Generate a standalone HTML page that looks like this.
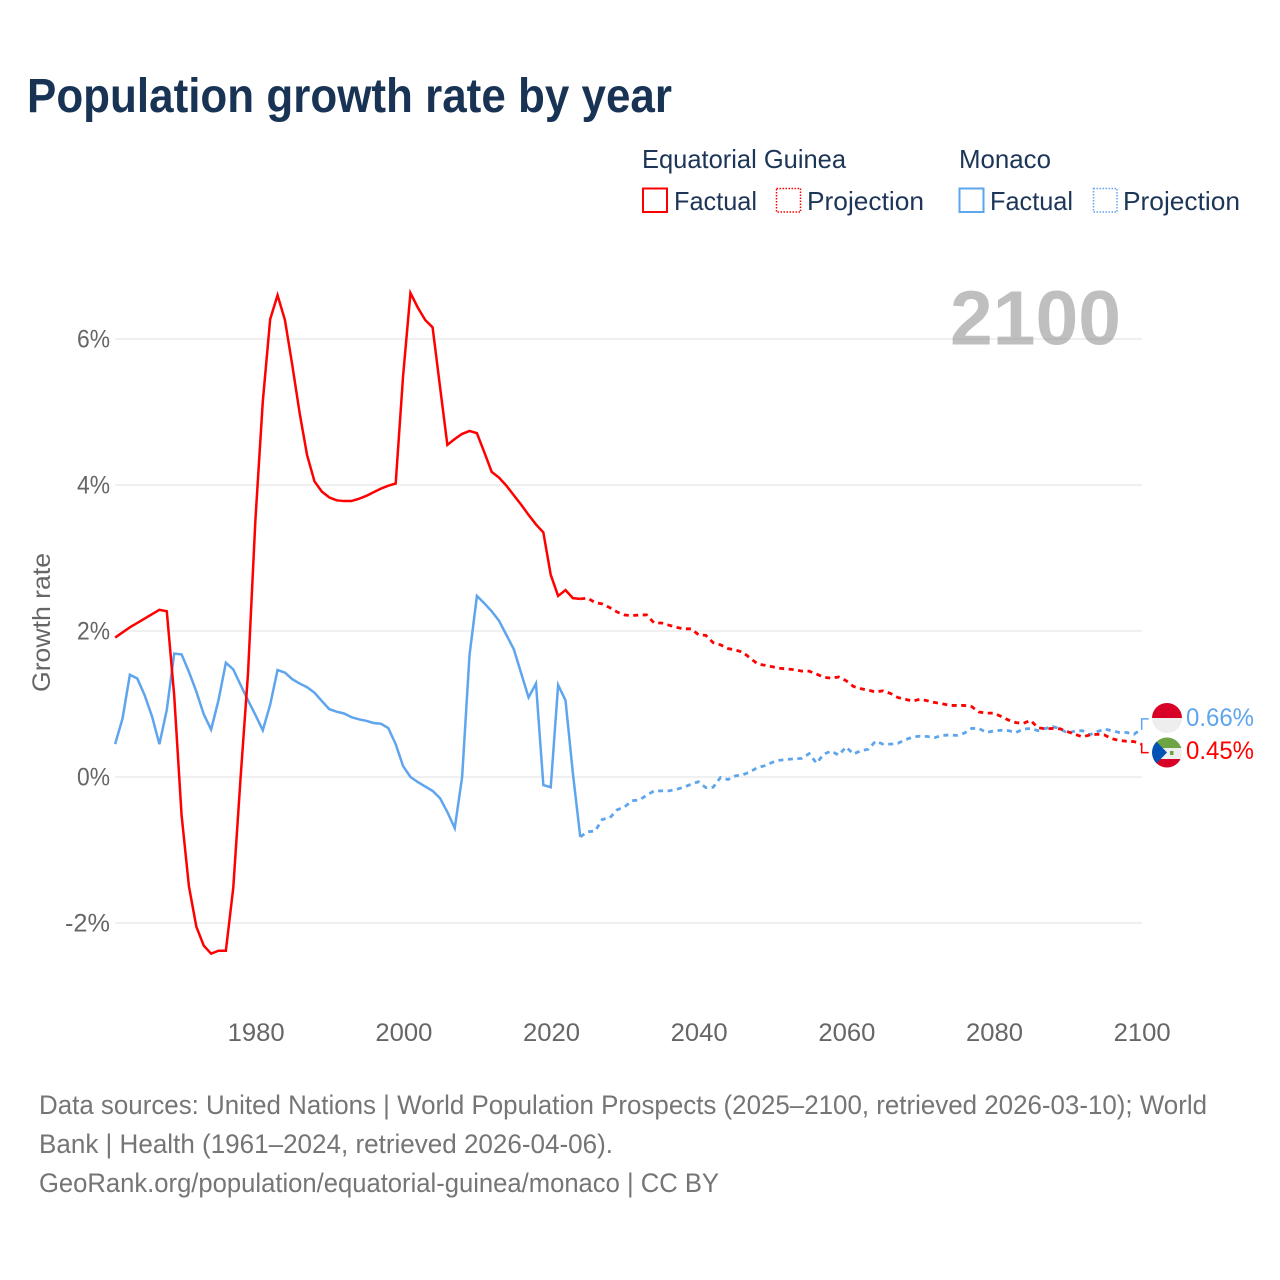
<!DOCTYPE html>
<html lang="en">
<head>
<meta charset="utf-8">
<title>Population growth rate by year</title>
<style>
html,body{margin:0;padding:0;background:#fff;width:1280px;height:1280px;overflow:hidden}
svg{display:block;font-family:"Liberation Sans",sans-serif}
</style>
</head>
<body>
<svg id="chart" xmlns="http://www.w3.org/2000/svg" width="1280" height="1280" viewBox="0 0 1280 1280">
  <rect x="0" y="0" width="1280" height="1280" fill="#ffffff"/>
  <text x="27" y="112" font-size="48" font-weight="700" fill="#183354" textLength="645" lengthAdjust="spacingAndGlyphs">Population growth rate by year</text>

  <g font-size="26" fill="#1d3557">
    <text x="642" y="168" textLength="204" lengthAdjust="spacingAndGlyphs">Equatorial Guinea</text>
    <text x="959" y="168" textLength="92" lengthAdjust="spacingAndGlyphs">Monaco</text>
    <rect x="643" y="188.500" width="24" height="23.500" fill="none" stroke="#ff0000" stroke-width="2"/>
    <text x="674" y="210" textLength="83" lengthAdjust="spacingAndGlyphs">Factual</text>
    <rect x="776.500" y="188.500" width="24" height="23.500" fill="none" stroke="#ff0000" stroke-width="1.500" stroke-dasharray="1.500 1.500"/>
    <text x="807" y="210" textLength="117" lengthAdjust="spacingAndGlyphs">Projection</text>
    <rect x="959.500" y="188.500" width="24" height="23.500" fill="none" stroke="#5ea5ee" stroke-width="2"/>
    <text x="990" y="210" textLength="83" lengthAdjust="spacingAndGlyphs">Factual</text>
    <rect x="1093.500" y="188.500" width="23.500" height="23.500" fill="none" stroke="#5ea5ee" stroke-width="1.500" stroke-dasharray="1.500 1.500"/>
    <text x="1123" y="210" textLength="117" lengthAdjust="spacingAndGlyphs">Projection</text>
  </g>

  <g id="grid"></g>
  <text id="year-watermark" x="950" y="344.500" font-size="77" font-weight="700" fill="#7f7f7f" fill-opacity="0.5" textLength="171" lengthAdjust="spacingAndGlyphs"></text>
  <g id="y-axis" font-size="25" fill="#666666"></g>
  <g id="x-axis" font-size="25" fill="#666666"></g>
  <text transform="translate(50,622.500) rotate(-90)" text-anchor="middle" font-size="25" fill="#666666" textLength="139" lengthAdjust="spacingAndGlyphs">Growth rate</text>

  <g id="series"></g>

  <g id="end-markers"></g>

  <defs>
    <clipPath id="clip-mc"><circle cx="1167" cy="718" r="15"/></clipPath>
    <clipPath id="clip-eg"><circle cx="1167" cy="752.500" r="15"/></clipPath>
  </defs>
  <g clip-path="url(#clip-mc)">
    <rect x="1152" y="703" width="30" height="15" fill="#d80027"/>
    <rect x="1152" y="718" width="30" height="15" fill="#eeeeee"/>
  </g>
  <g clip-path="url(#clip-eg)">
    <rect x="1152" y="737" width="30" height="11" fill="#6da544"/>
    <rect x="1152" y="748" width="30" height="11" fill="#eeeeee"/>
    <rect x="1152" y="759" width="30" height="10" fill="#d80027"/>
    <polygon points="1152,737 1167,752.500 1152,768" fill="#0052b4"/>
    <rect x="1170" y="751" width="3.500" height="4" fill="#6da544"/>
  </g>

  <g font-size="26.500" fill="#757575">
    <text x="39" y="1114" textLength="1168" lengthAdjust="spacingAndGlyphs">Data sources: United Nations | World Population Prospects (2025–2100, retrieved 2026-03-10); World</text>
    <text x="39" y="1153" textLength="574" lengthAdjust="spacingAndGlyphs">Bank | Health (1961–2024, retrieved 2026-04-06).</text>
    <text x="39" y="1192" textLength="680" lengthAdjust="spacingAndGlyphs">GeoRank.org/population/equatorial-guinea/monaco | CC BY</text>
  </g>
</svg>

<script>
const factualStartYear = 1961;
const projectionStartYear = 2024;
const currentYear = 2100;
const xTickYears = [1980, 2000, 2020, 2040, 2060, 2080, 2100];
const yTickValues = [6, 4, 2, 0, -2];
const yTickLabels = ['6%', '4%', '2%', '0%', '-2%'];

const guineaFactual = [
  1.91, 1.98, 2.05, 2.11, 2.17, 2.23, 2.29, 2.27, 1.12, -0.52,
  -1.5, -2.05, -2.31, -2.42, -2.38, -2.38, -1.52, 0.0, 1.42, 3.52,
  5.14, 6.27, 6.6, 6.26, 5.64, 4.98, 4.41, 4.05, 3.91, 3.83,
  3.79, 3.78, 3.78, 3.81, 3.85, 3.9, 3.95, 3.99, 4.02, 5.49,
  6.63, 6.43, 6.26, 6.16, 5.35, 4.55, 4.63, 4.7, 4.74, 4.71,
  4.45, 4.18, 4.1, 3.99, 3.86, 3.73, 3.59, 3.46, 3.35, 2.77,
  2.48, 2.56, 2.45, 2.44
];
const guineaProjection = [
  2.44, 2.45, 2.39, 2.37, 2.32, 2.26, 2.22, 2.21, 2.22, 2.22,
  2.11, 2.11, 2.08, 2.05, 2.03, 2.03, 1.95, 1.94, 1.84, 1.81,
  1.76, 1.74, 1.71, 1.63, 1.55, 1.53, 1.51, 1.49, 1.48, 1.47,
  1.45, 1.45, 1.41, 1.365, 1.355, 1.37, 1.32, 1.24, 1.21, 1.19,
  1.165, 1.18, 1.145, 1.09, 1.065, 1.04, 1.065, 1.045, 1.02, 1.005,
  0.98, 0.98, 0.98, 0.965, 0.89, 0.875, 0.875, 0.83, 0.78, 0.745,
  0.735, 0.775, 0.675, 0.66, 0.665, 0.66, 0.62, 0.585, 0.55, 0.575,
  0.585, 0.575, 0.525, 0.5, 0.49, 0.485, 0.45
];
const monacoFactual = [
  0.45, 0.8, 1.4, 1.35, 1.12, 0.83, 0.45, 0.92, 1.69, 1.68,
  1.44, 1.17, 0.86, 0.65, 1.05, 1.565, 1.475, 1.26, 1.05, 0.85,
  0.64, 0.99, 1.465, 1.43, 1.34, 1.28, 1.23, 1.155, 1.04, 0.93,
  0.895, 0.87, 0.82, 0.79, 0.77, 0.74, 0.73, 0.67, 0.45, 0.15,
  0.0, -0.07, -0.13, -0.19, -0.29, -0.48, -0.7, 0.0, 1.67, 2.48,
  2.38, 2.27, 2.14, 1.945, 1.75, 1.42, 1.09, 1.28, -0.11, -0.14,
  1.26, 1.05, 0.05, -0.82
];
const monacoProjection = [
  -0.82, -0.75, -0.74, -0.58, -0.56, -0.45, -0.41, -0.325, -0.315, -0.25,
  -0.19, -0.19, -0.19, -0.17, -0.14, -0.1, -0.065, -0.145, -0.14, -0.005,
  -0.035, 0.015, 0.03, 0.07, 0.13, 0.155, 0.2, 0.23, 0.24, 0.25,
  0.255, 0.32, 0.19, 0.315, 0.355, 0.3, 0.41, 0.315, 0.36, 0.38,
  0.49, 0.45, 0.45, 0.46, 0.51, 0.545, 0.56, 0.555, 0.54, 0.57,
  0.575, 0.57, 0.6, 0.665, 0.665, 0.61, 0.63, 0.64, 0.635, 0.61,
  0.655, 0.665, 0.635, 0.665, 0.69, 0.66, 0.6, 0.63, 0.635, 0.58,
  0.62, 0.655, 0.635, 0.61, 0.61, 0.585, 0.66
];
const endLabelGuinea = '0.45%';
const endLabelMonaco = '0.66%';

const SVG_NS = 'http://www.w3.org/2000/svg';
const RED = '#ff0000';
const BLUE = '#5ea5ee';

function xScale(year) { return 255.4 + (year - 1980) * (1141.4 - 255.4) / 120; }
function yScale(value) { return 777 - value * 73; }
function pointsFor(values, startYear) {
  return values.map(function (v, i) {
    return xScale(startYear + i).toFixed(2) + ',' + yScale(v).toFixed(2);
  }).join(' ');
}
function make(tag, attrs, parent) {
  const el = document.createElementNS(SVG_NS, tag);
  Object.keys(attrs).forEach(function (k) { el.setAttribute(k, attrs[k]); });
  parent.appendChild(el);
  return el;
}

const gridGroup = document.getElementById('grid');
const yAxisGroup = document.getElementById('y-axis');
const xAxisGroup = document.getElementById('x-axis');
const seriesGroup = document.getElementById('series');
const endGroup = document.getElementById('end-markers');

document.getElementById('year-watermark').textContent = String(currentYear);

yTickValues.forEach(function (v, i) {
  const line = make('line', { x1: 115, x2: 1142, y1: yScale(v), y2: yScale(v), stroke: '#ebebeb', 'stroke-width': 1.500 }, gridGroup);
  
  
  const label = make('text', { x: 110, y: yScale(v) + 8.500, 'text-anchor': 'end', textLength: yTickLabels[i].length * 12 + 9, lengthAdjust: 'spacingAndGlyphs' }, yAxisGroup);
  
  
  label.textContent = yTickLabels[i];
});

xTickYears.forEach(function (year) {
  const label = make('text', { x: xScale(year) + 0.800, y: 1041, 'text-anchor': 'middle', textLength: 57, lengthAdjust: 'spacingAndGlyphs' }, xAxisGroup);
  
  
  label.textContent = String(year);
});

function addLine(values, startYear, color, dashed) {
  const attrs = { points: pointsFor(values, startYear), fill: 'none', stroke: color, 'stroke-width': dashed ? 2.800 : 2.500, 'stroke-linejoin': 'miter' };
  if (dashed) { attrs['stroke-dasharray'] = '5 4.500'; }
  return make('polyline', attrs, seriesGroup);
}

const monacoFactualLine = addLine(monacoFactual, factualStartYear, BLUE, false);


const monacoProjectionLine = addLine(monacoProjection, projectionStartYear, BLUE, true);


const guineaFactualLine = addLine(guineaFactual, factualStartYear, RED, false);


const guineaProjectionLine = addLine(guineaProjection, projectionStartYear, RED, true);



const endX = 1141.7;
const monacoEndY = yScale(monacoProjection[monacoProjection.length - 1]);
const guineaEndY = yScale(guineaProjection[guineaProjection.length - 1]);

const monacoLeader = make('polyline', { points: endX + ',' + (monacoEndY + 1) + ' ' + endX + ',' + (monacoEndY - 10) + ' ' + (endX + 7) + ',' + (monacoEndY - 10), fill: 'none', stroke: BLUE, 'stroke-width': 1.500 }, endGroup);


const guineaLeader = make('polyline', { points: endX + ',' + (guineaEndY - 1) + ' ' + endX + ',' + (guineaEndY + 8.500) + ' ' + (endX + 7) + ',' + (guineaEndY + 8.500), fill: 'none', stroke: RED, 'stroke-width': 1.500 }, endGroup);



const monacoEndText = make('text', { x: 1186, y: 726, 'font-size': 25, fill: BLUE, textLength: 68, lengthAdjust: 'spacingAndGlyphs' }, endGroup);


monacoEndText.textContent = endLabelMonaco;
const guineaEndText = make('text', { x: 1186, y: 759, 'font-size': 25, fill: RED, textLength: 68, lengthAdjust: 'spacingAndGlyphs' }, endGroup);


guineaEndText.textContent = endLabelGuinea;
</script>
</body>
</html>
